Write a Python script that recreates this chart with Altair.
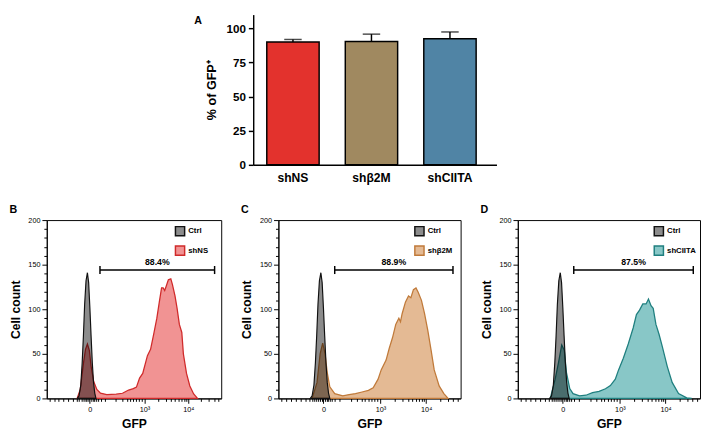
import altair as alt
import pandas as pd

FONT = "Liberation Sans"

# ---------------- Panel A data ----------------
groups = ["shNS", "shβ2M", "shCIITA"]
pct_mean = [90.0, 90.3, 92.3]
pct_upper = [91.8, 95.7, 97.3]
bar_colors = ["#e3322d", "#a08960", "#5084a5"]

# ---------------- Histogram data (x in display units 0-100 of the GFP axis) ----------------
ctrl_x = [17.5, 18.5, 19.5, 20.3, 21.0, 21.7, 22.5, 23.3, 24.0, 24.7, 25.4, 26.1, 26.8, 27.5, 28.2]
ctrl_y = [0, 3, 15, 40, 70, 105, 132, 141, 130, 102, 70, 40, 18, 6, 0]

shns_x = [17.4, 19.2, 21.0, 22.2, 23.3, 24.4, 25.4, 26.9, 28.7, 30.8, 34.4, 39.8, 43.4, 46.9, 49.6,
          51.4, 53.2, 55.0, 57.7, 59.5, 61.3, 63.1, 64.5, 65.8, 66.7, 67.6, 68.5, 69.7, 71.1, 72.0,
          73.5, 74.7, 76.0, 77.4, 78.3, 80.1, 82.0, 84.2, 86.4]
shns_y = [0, 10, 39, 55, 61, 54, 36, 19, 10, 6, 4.3, 4.7, 5.8, 9.4, 11,
          12.7, 22.8, 28, 48, 55, 72, 90, 108, 124, 124, 121, 126, 133, 134, 128,
          115, 101, 83, 74, 50, 28, 14, 5, 0]

shb2m_x = [18.5, 21.2, 22.9, 24.3, 25.6, 26.8, 28.2, 30.9, 35.3, 38.8, 42.3, 45.9, 49.4, 52.0, 54.7,
           56.4, 59.1, 60.8, 62.6, 64.4, 66.1, 67.0, 67.9, 69.7, 71.4, 72.7, 74.1, 75.5, 76.7, 78.5,
           80.2, 82.0, 83.8, 85.5, 88.2, 90.8, 93.1]
shb2m_y = [0, 18, 50, 62, 50, 29, 13, 5.4, 2.9, 4.3, 5.4, 7.2, 9, 12, 21.6,
           32, 43, 56, 68, 83, 90, 86, 95, 108, 115, 113, 122, 124, 119, 110,
           95, 76, 54, 32, 14, 5.4, 0]

shciita_x = [17.8, 20.5, 22.3, 24.1, 25.5, 26.7, 28.5, 30.3, 33.9, 37.4, 41.0, 44.6, 48.1, 50.8, 53.5,
             55.3, 57.9, 60.6, 63.3, 65.1, 66.8, 68.6, 70.4, 71.7, 73.1, 74.3, 75.8, 77.5, 79.3, 82.0,
             84.7, 88.2, 92.7, 95.4]
shciita_y = [0, 21.6, 40, 60, 54, 29, 11, 5.4, 2.9, 3.6, 6.5, 7.9, 10.8, 14.4, 21.6,
             32, 45, 61, 79, 94, 99, 106, 106, 111.5, 104, 101, 83, 72, 58, 36,
             18, 5.4, 0.7, 0]

gate_text = ["88.4%", "88.9%", "87.5%"]
gate_lo = [30.5, 30.9, 30.7]
gate_hi = [96.2, 95.8, 96.3]
gate_count = 144

x_major = [24.7, 56.0, 81.1]
x_major_labels = ["0", "10³", "10⁴"]
x_minor = [1.6, 4.2, 6.9, 9.5, 12.2, 14.8, 17.0, 18.5, 19.8, 21.0, 22.0, 23.0, 23.8, 25.6, 26.4,
           27.3, 28.3, 29.5, 31.0, 33.6, 39.7, 43.2, 45.9, 47.6, 49.4, 51.2, 52.9, 54.4,
           63.8, 68.1, 71.2, 73.6, 75.6, 77.3, 78.7, 80.0, 88.6, 92.9, 96.0, 98.4]

# ---------------- Panel A ----------------
bar_df = pd.DataFrame({"group": groups, "mean": pct_mean, "upper": pct_upper})
xa = alt.X("group:N", sort=groups,
           scale=alt.Scale(paddingInner=0.333, paddingOuter=0.216, align=0.4),
           axis=alt.Axis(title=None, labelAngle=0, ticks=False, labelFontSize=12.5,
                         labelFontWeight="bold", labelFont=FONT, labelColor="black",
                         labelPadding=7, domainColor="black", domainWidth=1.5))
ya = alt.Y("mean:Q", scale=alt.Scale(domain=[0, 110], nice=False),
           axis=alt.Axis(values=[0, 25, 50, 75, 100], tickCount=100, title="% of GFP⁺",
                         titleFont=FONT, titleFontSize=13, titleFontWeight="bold",
                         titleColor="black", titlePadding=8, labelFont=FONT, labelFontSize=12,
                         labelFontWeight="bold", labelColor="black", tickSize=5, tickWidth=1.5,
                         tickColor="black", domainColor="black", domainWidth=1.5, grid=False,
                         labelPadding=3))
base_a = alt.Chart(bar_df)
bars = base_a.mark_bar(stroke="black", strokeWidth=1.5).encode(
    x=xa, y=ya,
    color=alt.Color("group:N", scale=alt.Scale(domain=groups, range=bar_colors), legend=None))
err = base_a.mark_rule(color="black", strokeWidth=1.5).encode(x=xa, y="mean:Q", y2="upper:Q")
cap = base_a.mark_tick(color="black", size=18, thickness=1.5).encode(x=xa, y="upper:Q")
panel_a = alt.layer(bars, err, cap).properties(width=251, height=155)

# invisible spacer panel that carries the panel letter "A" at its top-right corner
letter_df = pd.DataFrame({"lab": ["A"], "px": [1.0], "py": [1.0]})
spacer = alt.Chart(letter_df).mark_text(
    font=FONT, fontSize=11, fontWeight="bold", color="black", align="right",
    baseline="top", dx=-3, dy=1).encode(
    x=alt.X("px:Q", axis=None, scale=alt.Scale(domain=[0, 1], nice=False)),
    y=alt.Y("py:Q", axis=None, scale=alt.Scale(domain=[0, 1], nice=False)),
    text="lab:N").properties(width=163, height=12)

top_row = alt.hconcat(spacer, panel_a, spacing=0)

# ---------------- Histogram panels ----------------
all_x_ticks = sorted(x_major + x_minor)
x_label_expr = " : ".join(
    [f"datum.value == {v} ? '{lab}'" for v, lab in zip(x_major, x_major_labels)]) + " : ''"
x_major_test = " || ".join([f"datum.value == {v}" for v in x_major])


def hist_panel(letter, name, xs, ys, fill, stroke, gtext, glo, ghi, width):
    dom = ["Ctrl", name]
    fill_scale = alt.Scale(domain=dom, range=["rgba(0,0,0,0.45)", fill])
    stroke_scale = alt.Scale(domain=dom, range=["#111111", stroke])
    legend = alt.Legend(orient="none", legendX=width - 48, legendY=6, title=None,
                        symbolType="square", symbolSize=90, symbolStrokeWidth=1.5,
                        labelFont=FONT, labelFontSize=8, labelFontWeight="bold",
                        labelColor="black", rowPadding=3, labelOffset=3, padding=0)
    xenc = alt.X("x:Q", scale=alt.Scale(domain=[0, 100], nice=False, zero=False),
                 axis=alt.Axis(values=all_x_ticks, tickCount=200, labelExpr=x_label_expr,
                               title="GFP", titleFont=FONT, titleFontSize=12.5,
                               titleFontWeight="bold", titleColor="black", titlePadding=6,
                               labelFont=FONT, labelFontSize=7.5, labelColor="black",
                               labelOverlap=False, labelPadding=2, domainColor="black",
                               tickColor="black",
                               tickSize={"condition": {"test": x_major_test, "value": 5}, "value": 3},
                               grid=False))
    yenc = alt.Y("y:Q", stack=None, scale=alt.Scale(domain=[0, 200], nice=False),
                 axis=alt.Axis(values=list(range(0, 201, 10)), tickCount=200,
                               labelExpr="datum.value % 50 == 0 ? datum.label : ''",
                               title="Cell count", titleFont=FONT, titleFontSize=12.5,
                               titleFontWeight="bold", titleColor="black", titlePadding=6,
                               labelFont=FONT, labelFontSize=7.5, labelColor="black",
                               labelOverlap=False, labelPadding=2, domainColor="black",
                               tickColor="black",
                               tickSize={"condition": {"test": "datum.value % 50 == 0", "value": 5},
                                         "value": 3},
                               grid=False))
    sample_df = pd.DataFrame({"x": xs, "y": ys, "series": name})
    ctrl_df = pd.DataFrame({"x": ctrl_x, "y": ctrl_y, "series": "Ctrl"})
    sample = alt.Chart(sample_df).mark_area(strokeWidth=1.3).encode(
        x=xenc, y=yenc,
        fill=alt.Fill("series:N", scale=fill_scale, legend=legend),
        stroke=alt.Stroke("series:N", scale=stroke_scale, legend=legend))
    ctrl = alt.Chart(ctrl_df).mark_area(strokeWidth=1.2).encode(
        x=xenc, y=yenc,
        fill=alt.Fill("series:N", scale=fill_scale, legend=legend),
        stroke=alt.Stroke("series:N", scale=stroke_scale, legend=legend))
    gate_df = pd.DataFrame({"lo": [glo], "hi": [ghi], "y": [gate_count],
                            "mid": [(glo + ghi) / 2], "txt": [gtext]})
    caps_df = pd.DataFrame({"x": [glo, ghi], "y0": [gate_count - 4.5] * 2,
                            "y1": [gate_count + 4.5] * 2})
    gate = alt.Chart(gate_df).mark_rule(color="black", strokeWidth=1.5).encode(
        x=alt.X("lo:Q"), x2="hi:Q", y=alt.Y("y:Q"))
    caps = alt.Chart(caps_df).mark_rule(color="black", strokeWidth=1.5).encode(
        x=alt.X("x:Q"), y=alt.Y("y0:Q"), y2="y1:Q")
    label = alt.Chart(gate_df).mark_text(font=FONT, fontSize=9, fontWeight="bold", color="black",
                                         baseline="bottom", dy=-3).encode(
        x=alt.X("mid:Q"), y=alt.Y("y:Q"), text="txt:N")
    return alt.layer(sample, ctrl, gate, caps, label).properties(
        width=width, height=184,
        view=alt.ViewBackground(stroke="black", strokeWidth=1),
        title=alt.TitleParams(letter, anchor="start", frame="bounds", fontSize=11, font=FONT,
                              fontWeight="bold", offset=1, color="black"))


panel_b = hist_panel("B", "shNS", shns_x, shns_y, "rgba(228,40,40,0.5)", "#d02a2a",
                     gate_text[0], gate_lo[0], gate_hi[0], 180)
panel_c = hist_panel("C", "shβ2M", shb2m_x, shb2m_y, "rgba(205,130,60,0.55)", "#c07a3a",
                     gate_text[1], gate_lo[1], gate_hi[1], 188)
panel_d = hist_panel("D", "shCIITA", shciita_x, shciita_y, "rgba(30,150,150,0.53)", "#1f7f7f",
                     gate_text[2], gate_lo[2], gate_hi[2], 188)

bottom_row = alt.hconcat(panel_b, panel_c, panel_d, spacing=18).resolve_scale(
    fill="independent", stroke="independent").resolve_legend(
    fill="independent", stroke="independent")

chart = alt.vconcat(top_row, bottom_row, spacing=20).resolve_scale(
    fill="independent", stroke="independent").properties(
    padding=0, background="white").configure_view(strokeWidth=0, stroke="transparent")

chart.save("out.html", embed_options={"renderer": "svg", "actions": False})
